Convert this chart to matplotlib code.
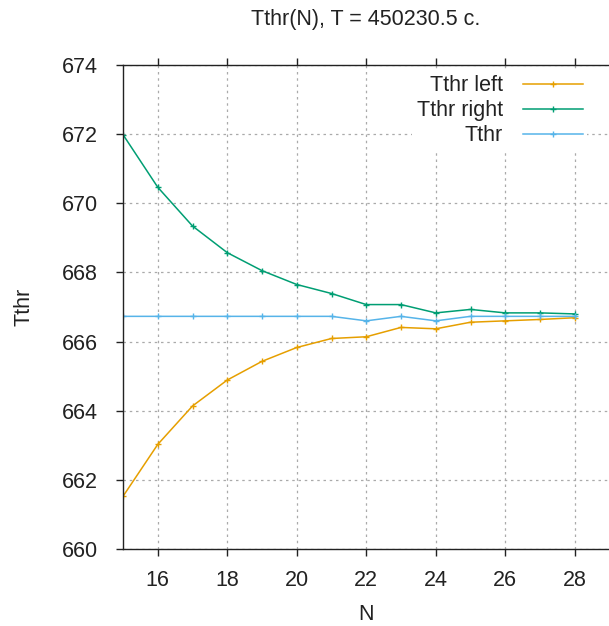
import matplotlib
matplotlib.use("Agg")
import matplotlib.pyplot as plt

# данные
n_vals = [15, 16, 17, 18, 19, 20, 21, 22, 23, 24, 25, 26, 27, 28]
tthr_left = [661.53, 663.03, 664.14, 664.89, 665.43, 665.83, 666.09, 666.14,
             666.41, 666.37, 666.56, 666.60, 666.64, 666.69]
tthr_right = [671.98, 670.46, 669.34, 668.57, 668.05, 667.65, 667.39, 667.07,
              667.07, 666.83, 666.93, 666.83, 666.83, 666.80]
tthr = [666.73, 666.73, 666.73, 666.73, 666.73, 666.73, 666.73, 666.60,
        666.73, 666.60, 666.73, 666.73, 666.73, 666.73]

x_ticks = [16, 18, 20, 22, 24, 26, 28]
y_ticks = [660, 662, 664, 666, 668, 670, 672, 674]

plt.rcParams['font.family'] = ['Liberation Sans', 'DejaVu Sans']
fs = 15.5

W, H = 609, 626
fig = plt.figure(figsize=(W / 100, H / 100), dpi=100)
ax = fig.add_axes([123 / W, 1 - 549.3 / H, (609.5 - 123) / W, (549.3 - 64.7) / H])

ax.plot(n_vals, tthr_left, color='#E69F00', lw=1.1, marker='+', ms=4, mew=1, label='Tthr left')
ax.plot(n_vals, tthr_right, color='#009E73', lw=1.1, marker='+', ms=4, mew=1, label='Tthr right')
ax.plot(n_vals, tthr, color='#56B4E9', lw=1.1, marker='+', ms=4, mew=1, label='Tthr')

ax.set_xlim(15, 29)
ax.set_ylim(660, 674)
ax.set_xticks(x_ticks)
ax.set_yticks(y_ticks)
ax.tick_params(direction='out', length=5, width=1, top=True, colors='#222222', labelsize=fs)
ax.tick_params(axis='x', pad=10)
ax.tick_params(axis='y', pad=13)
ax.grid(True, color='#aaaaaa', linestyle=(0, (2, 3)), linewidth=0.9)
ax.set_axisbelow(True)
for side in ['left', 'bottom', 'top']:
    ax.spines[side].set_color('#222222')
    ax.spines[side].set_linewidth(1.0)
ax.spines['right'].set_visible(False)

# заголовок и подписи осей
fig.text(366 / W, 1 - 19 / H, 'Tthr(N), T = 450230.5 c.', fontsize=fs,
         ha='center', va='center', color='#222222')
ax.set_xlabel('N', fontsize=fs, color='#222222')
ax.xaxis.set_label_coords(0.5, -(604 - 549.3) / (549.3 - 64.7))
ax.set_ylabel('Tthr', fontsize=fs, color='#222222')
ax.yaxis.set_label_coords(-(123 - 35) / (609.5 - 123), 0.5)

leg = ax.legend(loc='upper right', bbox_to_anchor=(598 / W, 1 - 60 / H),
                bbox_transform=fig.transFigure, markerfirst=False, numpoints=1,
                frameon=True, fancybox=False, edgecolor='none', facecolor='white',
                framealpha=1, handlelength=2.8, handletextpad=0.93,
                labelspacing=0.19, borderpad=0.2, fontsize=fs)
for t in leg.get_texts():
    t.set_color('#222222')

fig.savefig('out.png', dpi=100)
